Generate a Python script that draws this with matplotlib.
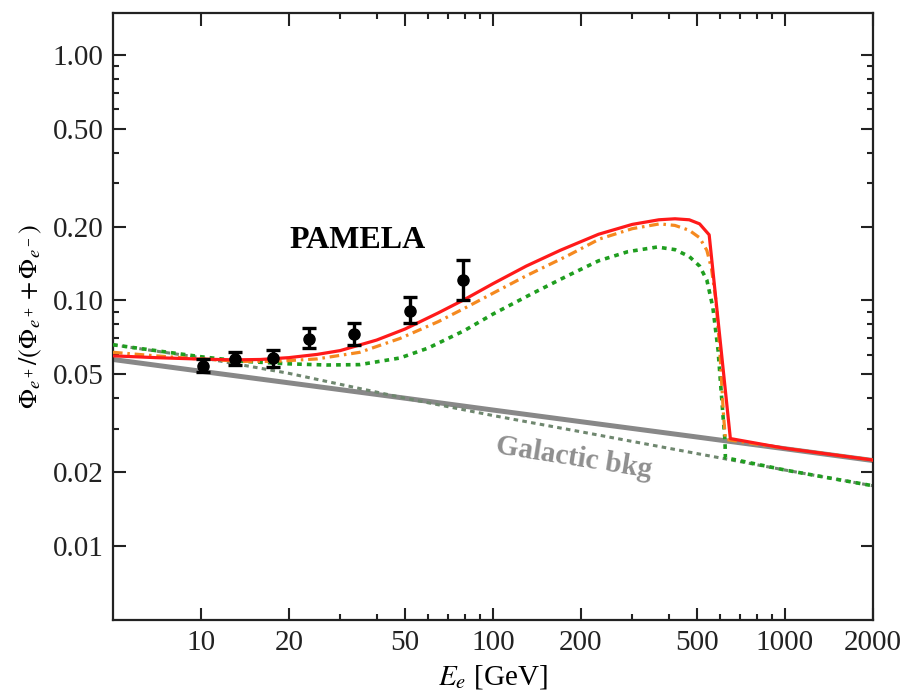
import matplotlib
matplotlib.use('Agg')
import matplotlib.pyplot as plt
from matplotlib.ticker import FixedLocator, NullFormatter

plt.rcParams['font.family'] = ['Liberation Serif', 'DejaVu Serif']
plt.rcParams['mathtext.fontset'] = 'stix'

# galactic background (solid) and alternative background (dashed)
bkg_E = [5, 10, 20, 50, 100, 200, 500, 1000, 2000]
bkg1_y = [0.0575, 0.0515, 0.0462, 0.0400, 0.0358, 0.0321, 0.0278, 0.0249, 0.0223]
bkg2_y = [0.066, 0.0585, 0.0505, 0.0400, 0.0340, 0.0292, 0.0238, 0.0204, 0.0176]

# model curves
red_E = [5, 7, 10, 13, 16, 20, 25, 30, 40, 50, 65, 80, 100, 130, 170, 230, 300, 370,
         420, 470, 510, 550, 650, 1000, 2000]
red_y = [0.0595, 0.0585, 0.0577, 0.0573, 0.0575, 0.0585, 0.0603, 0.0625, 0.0690, 0.0765,
         0.089, 0.101, 0.117, 0.138, 0.160, 0.186, 0.204, 0.213, 0.215, 0.213, 0.205,
         0.185, 0.0274, 0.0250, 0.0224]

orange_E = [5, 7, 10, 14, 18, 25, 35, 48, 65, 80, 100, 130, 180, 232, 300, 372, 420, 470,
            510, 540, 560, 580, 597, 615, 625, 1000, 2000]
orange_y = [0.0615, 0.0595, 0.0577, 0.0565, 0.0565, 0.0578, 0.0615, 0.070, 0.082, 0.093,
            0.107, 0.126, 0.152, 0.178, 0.196, 0.205, 0.202, 0.193, 0.180, 0.160, 0.135,
            0.100, 0.065, 0.035, 0.0272, 0.0250, 0.0224]

green_E = [5, 7, 10, 14, 20, 27, 35, 48, 60, 80, 100, 137, 180, 230, 290, 365, 420, 470,
           510, 540, 566, 590, 614, 623, 625, 1000, 2000]
green_y = [0.066, 0.0625, 0.059, 0.0565, 0.0552, 0.0546, 0.0548, 0.0583, 0.064, 0.0755,
           0.088, 0.107, 0.126, 0.145, 0.158, 0.165, 0.161, 0.151, 0.138, 0.121, 0.094,
           0.0627, 0.0334, 0.027, 0.0229, 0.0204, 0.0176]

# PAMELA data
pam_E = [10.2, 13.1, 17.6, 23.4, 33.4, 52, 79]
pam_y = [0.054, 0.058, 0.0585, 0.0695, 0.0728, 0.091, 0.121]
pam_lo = [0.051, 0.0545, 0.0535, 0.064, 0.066, 0.081, 0.100]
pam_hi = [0.058, 0.0615, 0.063, 0.077, 0.081, 0.103, 0.146]

x_major = [10, 20, 50, 100, 200, 500, 1000, 2000]
x_minor = [30, 40, 60, 70, 80, 90, 300, 400, 600, 700, 800, 900]
y_major = [0.01, 0.02, 0.05, 0.10, 0.20, 0.50, 1.00]
y_minor = [0.03, 0.04, 0.06, 0.07, 0.08, 0.09, 0.3, 0.4, 0.6, 0.7, 0.8, 0.9]

fig = plt.figure(figsize=(9.09, 6.98), dpi=100)
ax = fig.add_axes([0.1243, 0.1117, 0.836, 0.8697])

ax.plot(bkg_E, bkg1_y, color='#888888', lw=3.6, solid_capstyle='butt', zorder=1)
ax.plot(bkg_E, bkg2_y, color='#6f876f', lw=2.2, dashes=(1.5, 1.4), zorder=2)
ax.plot(green_E, green_y, color='#1f9e1f', lw=2.6, dashes=(1.3, 1.4), zorder=3)
ax.plot(orange_E, orange_y, color='#f5891f', lw=2.3, dashes=(3, 1.5, 0.8, 1.5), zorder=4)
ax.plot(red_E, red_y, color='#ff1a1a', lw=2.3, zorder=5)

yerr = [[y - lo for y, lo in zip(pam_y, pam_lo)], [hi - y for y, hi in zip(pam_y, pam_hi)]]
ax.errorbar(pam_E, pam_y, yerr=yerr, fmt='o', color='black', ms=8, elinewidth=2.4,
            capsize=5, capthick=2.4, zorder=6)

ax.text(34.5, 0.176, 'PAMELA', fontsize=23, fontweight='bold', ha='center', va='center')
ax.text(190, 0.0228, 'Galactic bkg', fontsize=21, fontweight='bold', color='#8f8f8f',
        ha='center', va='center', rotation=-9)

ax.set_xscale('log')
ax.set_yscale('log')
ax.set_xlim(5, 2000)
ax.set_ylim(0.005, 1.48)

ax.xaxis.set_major_locator(FixedLocator(x_major))
ax.xaxis.set_minor_locator(FixedLocator(x_minor))
ax.xaxis.set_minor_formatter(NullFormatter())
ax.set_xticklabels([str(v) for v in x_major])
ax.yaxis.set_major_locator(FixedLocator(y_major))
ax.yaxis.set_minor_locator(FixedLocator(y_minor))
ax.yaxis.set_minor_formatter(NullFormatter())
ax.set_yticklabels(['%.2f' % v for v in y_major])

ax.tick_params(which='both', direction='in', top=True, right=True, width=1.5,
               labelsize=21, colors='#222222')
ax.tick_params(which='major', length=9, pad=7)
ax.tick_params(which='minor', length=4.5)
for s in ax.spines.values():
    s.set_linewidth(1.6)
    s.set_color('#222222')

ax.set_xlabel(r'$E_e$ [GeV]', fontsize=21, labelpad=5)
ax.set_ylabel(r'$\Phi_{e^+}/(\Phi_{e^+}+\Phi_{e^-})$', fontsize=19, labelpad=6)

fig.savefig('out.png', dpi=100)
